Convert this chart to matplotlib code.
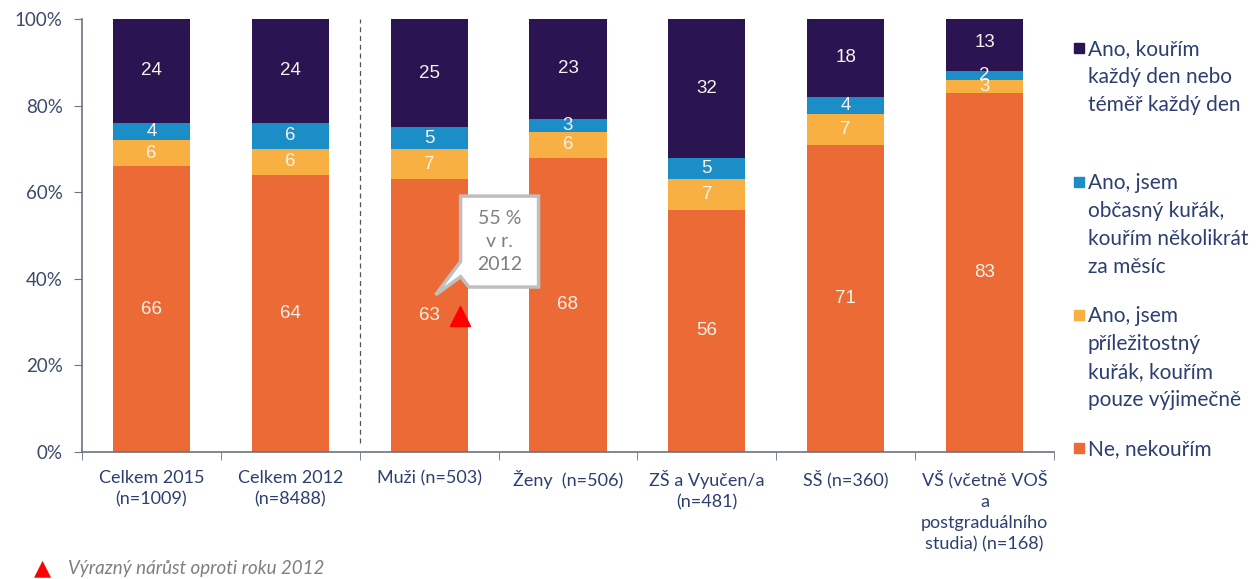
import numpy as np
import matplotlib
matplotlib.use("Agg")
import matplotlib.pyplot as plt
from matplotlib.patches import Polygon, Rectangle

categories = ["Celkem 2015\n(n=1009)", "Celkem 2012\n(n=8488)", "Muži (n=503)",
              "Ženy  (n=506)", "ZŠ a Vyučen/a\n(n=481)", "SŠ (n=360)",
              "VŠ (včetně VOŠ\na\npostgraduálního\nstudia) (n=168)"]
ne = [66, 64, 63, 68, 56, 71, 83]
prilezitostny = [6, 6, 7, 6, 7, 7, 3]
obcasny = [4, 6, 5, 3, 5, 4, 2]
denne = [24, 24, 25, 23, 32, 18, 13]

series_names = ["Ne, nekouřím",
                "Ano, jsem\npříležitostný\nkuřák, kouřím\npouze výjimečně",
                "Ano, jsem\nobčasný kuřák,\nkouřím několikrát\nza měsíc",
                "Ano, kouřím\nkaždý den nebo\ntéměř každý den"]
colors = ["#EC6A35", "#F8B042", "#1B8DC7", "#2A1552"]
yticks = [0, 20, 40, 60, 80, 100]
flag_idx = 2          # Muži - výrazný nárůst
callout_text = "55 %\nv r.\n2012"
note = "Výrazný nárůst oproti roku 2012"

axis_col = "#3B4A6B"
txt_col = "#2D3F72"
fnt = "Lato"

fig = plt.figure(figsize=(12.57, 5.79), dpi=100)
ax = fig.add_axes([0.0652, 0.2193, 0.7733, 0.7479])

x = np.arange(len(categories))
data = [ne, prilezitostny, obcasny, denne]
bottom = np.zeros(len(categories))
for vals, col in zip(data, colors):
    v = np.array(vals, dtype=float)
    ax.bar(x, v, 0.555, bottom=bottom, color=col, zorder=2)
    for xi, b, h in zip(x, bottom, v):
        ax.text(xi, b + h / 2, f"{int(h)}", ha="center", va="center",
                color="#F7F2EA", fontsize=13.5, family="Liberation Sans", zorder=4)
    bottom += v

ax.set_xlim(-0.5, len(categories) - 0.5)
ax.set_ylim(0, 100)
ax.set_yticks(yticks)
ax.set_yticklabels([f"{t}%" for t in yticks], fontsize=13.5, color=axis_col, family=fnt)
ax.set_xticks(x)
ax.set_xticklabels(categories, fontsize=13, color=txt_col, family=fnt, linespacing=1.4)
ax.set_xticks(np.arange(len(categories) + 1) - 0.5, minor=True)
ax.tick_params(axis="x", which="major", length=0, pad=13)
ax.tick_params(axis="x", which="minor", length=6, color="#6B7280", direction="out")
ax.tick_params(axis="y", length=6, color="#6B7280", pad=8)
for s in ["top", "right"]:
    ax.spines[s].set_visible(False)
for s in ["left", "bottom"]:
    ax.spines[s].set_color("#6B7280")
    ax.spines[s].set_linewidth(1.2)

# dashed separator between totals and groups
ax.plot([1.5, 1.5], [2, 100], ls=(0, (4, 3)), color="#555555", lw=0.9, zorder=3)

# red triangle marker
ax.plot(flag_idx + 0.22, ne[flag_idx] / 2, marker="^", color="#FF0000",
        markersize=14, zorder=5, clip_on=False)

# callout bubble
cx0, cx1 = flag_idx + 0.227, flag_idx + 0.788
cy0, cy1 = 38.1, 59.1
pts = [(cx0, cy1), (cx1, cy1), (cx1, cy0), (cx0 + 0.06, cy0),
       (cx0, 40.5), (flag_idx + 0.047, 36.3), (cx0, 44.0)]
ax.add_patch(Polygon(pts, closed=True, facecolor="white", edgecolor="#BFBFBF",
                     lw=2.5, zorder=6, joinstyle="miter"))
ax.text((cx0 + cx1) / 2, (cy0 + cy1) / 2, callout_text, ha="center", va="center",
        fontsize=14, color="#7F7F7F", family=fnt, linespacing=1.4, zorder=7)

# legend (manual, right side); y = centre of first line
leg_y = [0.917, 0.686, 0.456, 0.226]
sq_w, sq_h = 10 / 1257, 10 / 579
for name, col, yy in zip(series_names[::-1], colors[::-1], leg_y):
    fig.add_artist(Rectangle((0.8543, yy - sq_h / 2), sq_w, sq_h, color=col,
                             transform=fig.transFigure))
    fig.text(0.8655, yy + 0.015, name, color=txt_col, fontsize=15, va="top",
             ha="left", family=fnt, linespacing=1.5)

# bottom note
fig.text(0.034, 0.018, "▲", color="#FF0000", fontsize=16, va="center", ha="center",
         family="DejaVu Sans")
fig.text(0.054, 0.018, note, color="#7F7F7F", fontsize=13.5, va="center",
         ha="left", family=fnt, style="italic")

fig.savefig("out.png", dpi=100)
